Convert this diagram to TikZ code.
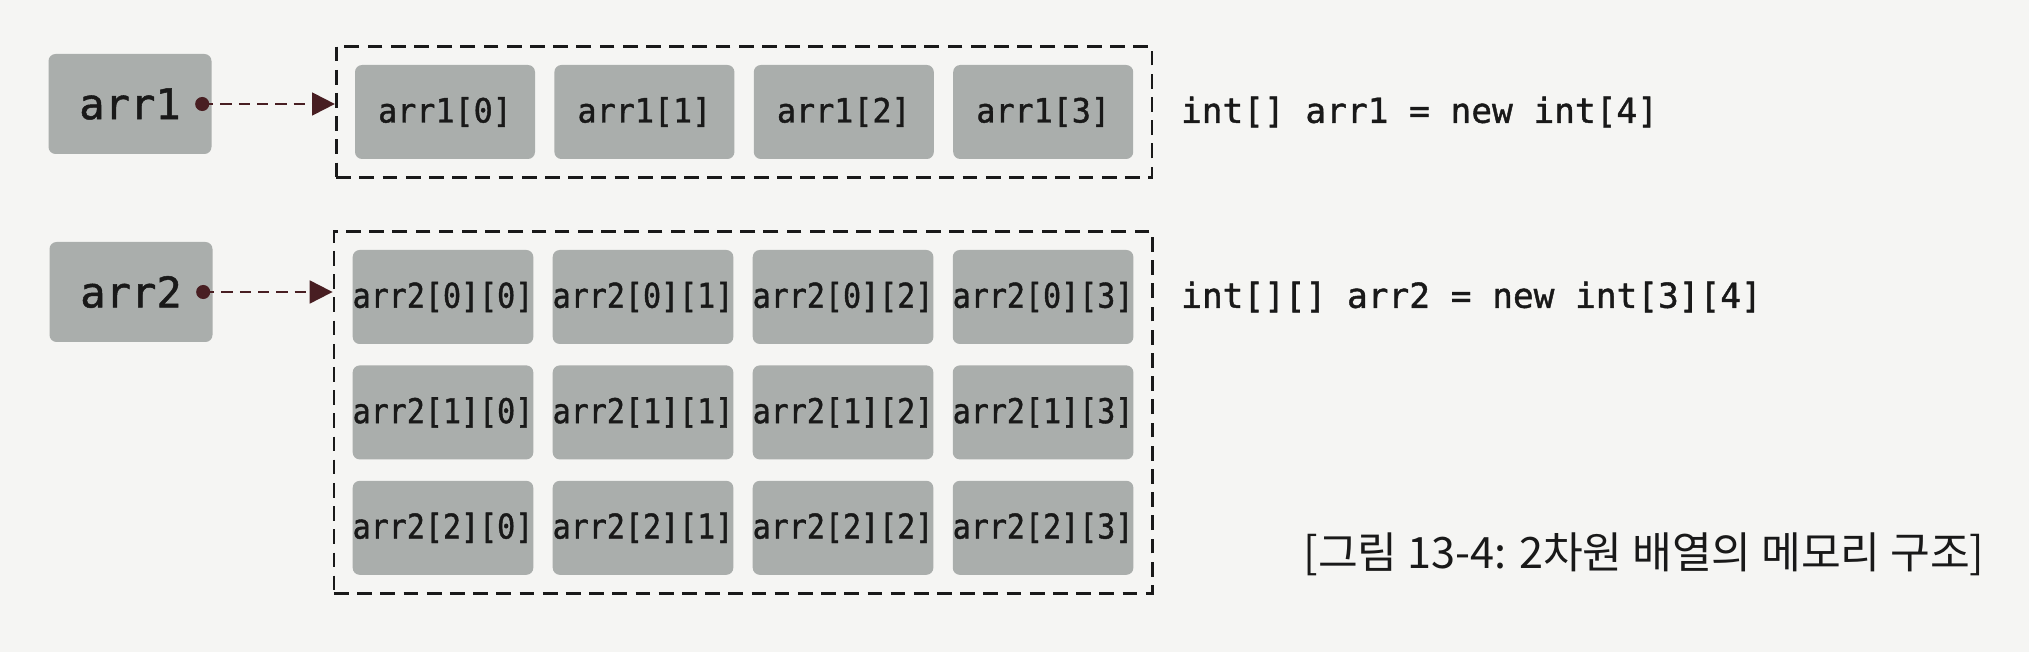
\documentclass[tikz,border=0pt]{standalone}
\usepackage{fontspec}
\setmonofont{DejaVu Sans Mono}[FakeBold=1.2]
\newfontfamily\narrowmono{DejaVu Sans Mono}[FakeStretch=0.88,FakeBold=1.2]
\newfontfamily\cellmono{DejaVu Sans Mono}[FakeStretch=0.95,FakeBold=1.2]
\newfontfamily\krfont{Noto Sans CJK KR}
\usetikzlibrary{positioning,fit,arrows.meta}
\definecolor{paper}{RGB}{245,245,243}
\definecolor{cellgray}{RGB}{170,174,172}
\definecolor{inkdark}{RGB}{25,25,25}
\definecolor{arrowred}{RGB}{72,30,34}

\begin{document}
\begin{tikzpicture}[
	> = {Triangle[length=6.5pt,width=6.5pt]}, % arrow head style
	node distance = 0.2cm and 0.18cm, % gap between cells
	var/.style = {rectangle, rounded corners=2pt, fill=cellgray, text=inkdark,
		minimum width=1.63cm, minimum height=1cm, font=\fontsize{12}{12}\selectfont\ttfamily},
	cell/.style = {rectangle, rounded corners=2pt, fill=cellgray, text=inkdark, inner sep=0pt,
		minimum width=1.8cm, minimum height=0.94cm, font=\fontsize{9.5}{9.5}\selectfont\cellmono},
	cellb/.style = {cell, font=\fontsize{9.7}{9.7}\selectfont\narrowmono},
	arrframe/.style = {draw=inkdark, line width=0.8pt, dash pattern=on 4.2pt off 2.4pt, inner sep=0.18cm},
	ref/.style = {draw=arrowred, line width=0.6pt, dash pattern=on 3.2pt off 2pt, ->},
	decl/.style = {inner sep=0pt, text=inkdark, font=\fontsize{9.8}{9.8}\selectfont\ttfamily}
	]
	
	\fill[paper] (0,0) rectangle (20.29,6.52);
	\useasboundingbox (0,0) rectangle (20.29,6.52);
	
	% variables
	\node[var] (v1) at (1.30,5.48) {arr1};
	\node[var] (v2) at (1.31,3.60) {arr2};
	
	% 1D array
	\node[cell] (c0) at (4.45,5.40) {arr1[0]};
	\node[cell] (c1) [right=of c0] {arr1[1]};
	\node[cell] (c2) [right=of c1] {arr1[2]};
	\node[cell] (c3) [right=of c2] {arr1[3]};
	\node[arrframe, fit=(c0)(c3)] (f1) {};
	
	% 2D array
	\node[cellb] (a00) at (4.43,3.55) {arr2[0][0]};
	\node[cellb] (a01) [right=of a00] {arr2[0][1]};
	\node[cellb] (a02) [right=of a01] {arr2[0][2]};
	\node[cellb] (a03) [right=of a02] {arr2[0][3]};
	\node[cellb] (a10) [below=of a00] {arr2[1][0]};
	\node[cellb] (a11) [right=of a10] {arr2[1][1]};
	\node[cellb] (a12) [right=of a11] {arr2[1][2]};
	\node[cellb] (a13) [right=of a12] {arr2[1][3]};
	\node[cellb] (a20) [below=of a10] {arr2[2][0]};
	\node[cellb] (a21) [right=of a20] {arr2[2][1]};
	\node[cellb] (a22) [right=of a21] {arr2[2][2]};
	\node[cellb] (a23) [right=of a22] {arr2[2][3]};
	\node[arrframe, fit=(a00)(a23)] (f2) {};
	
	% references
	\coordinate (p1) at ([xshift=-0.1cm]v1.east);
	\coordinate (p2) at ([xshift=-0.1cm]v2.east);
	\fill[arrowred] (p1) circle (2pt);
	\fill[arrowred] (p2) circle (2pt);
	\draw[ref] (p1) -- (p1 -| f1.west);
	\draw[ref] (p2) -- (p2 -| f2.west);
	
	% declarations
	\coordinate (t1) at (f1.east |- c3);
	\coordinate (t2) at (f2.east |- a03);
	\node[decl] (d1) [right=0.27cm of t1] {int[] arr1 = new int[4]};
	\node[decl] (d2) [right=0.27cm of t2] {int[][] arr2 = new int[3][4]};
	
	\node[text=inkdark, font=\krfont\fontsize{12.3}{12.3}\selectfont] (cap) at (16.44,0.98) {[그림 13-4: 2차원 배열의 메모리 구조]};
\end{tikzpicture}
\end{document}
